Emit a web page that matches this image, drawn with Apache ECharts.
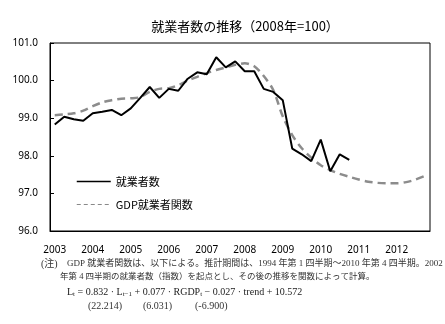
<!DOCTYPE html>
<html>
<head>
<meta charset="utf-8">
<script src="https://cdn.jsdelivr.net/npm/echarts@6/dist/echarts.min.js"></script>
<style>
html,body{margin:0;padding:0;background:#fff;}
#c{width:445px;height:324px;}
</style>
</head>
<body>
<div id="c"></div>
<script>
// ---- data ----
const years = ['2003','2004','2005','2006','2007','2008','2009','2010','2011','2012'];
const quarters = ['Q1','Q2','Q3','Q4'];
// 就業者数 (2003Q1 - 2010Q4)
const employed = [98.83, 99.04, 98.97, 98.93, 99.13, 99.17, 99.22, 99.08,
                  99.26, 99.54, 99.83, 99.54, 99.78, 99.73, 100.05, 100.22,
                  100.17, 100.62, 100.35, 100.51, 100.25, 100.25, 99.78, 99.70,
                  99.48, 98.19, 98.04, 97.86, 98.43, 97.59, 98.04, 97.89];
// GDP就業者関数 (2003Q1 - 2012Q4)
const gdpFunc = [99.08, 99.10, 99.13, 99.20, 99.32, 99.42, 99.48, 99.52,
                 99.53, 99.56, 99.70, 99.78, 99.80, 99.88, 100.00, 100.10,
                 100.20, 100.28, 100.35, 100.42, 100.46, 100.38, 100.12, 99.75,
                 99.05, 98.55, 98.20, 97.95, 97.75, 97.62, 97.52, 97.44,
                 97.37, 97.31, 97.28, 97.27, 97.27, 97.30, 97.37, 97.47];
const yTicks = [96, 97, 98, 99, 100, 101];
const seriesNames = ['就業者数', 'GDP就業者関数'];
const titleText = '就業者数の推移（2008年=100）';
const noteLine1 = 'GDP 就業者関数は、以下による。推計期間は、1994 年第 1 四半期～2010 年第 4 四半期。2002';
const noteLine2 = '年第 4 四半期の就業者数（指数）を起点とし、その後の推移を関数によって計算。';
const tStats = ['(22.214)', '(6.031)', '(-6.900)'];

const categories = [];
years.forEach(y => quarters.forEach(q => categories.push(y + q)));

const chart = echarts.init(document.getElementById('c'), null, {renderer: 'canvas'});
const labelFont = '"Noto Sans", "DejaVu Sans", sans-serif';
const noteFont = '"Liberation Serif", "Noto Sans CJK JP", serif';

chart.setOption({
  animation: false,
  backgroundColor: '#fff',
  title: {
    text: titleText,
    left: 240,
    top: 15,
    textAlign: 'center',
    textStyle: {fontSize: 13, fontWeight: 'normal', color: '#000', fontFamily: '"Noto Sans CJK JP", sans-serif'}
  },
  legend: {
    orient: 'vertical',
    left: 71,
    top: 171,
    itemWidth: 34,
    itemHeight: 12,
    itemGap: 12,
    textStyle: {fontSize: 11, color: '#000', fontFamily: '"Noto Sans CJK JP", sans-serif'},
    data: [
      {name: seriesNames[0], itemStyle: {opacity: 0}, lineStyle: {color: '#000', width: 1.5, type: 'solid'}},
      {name: seriesNames[1], itemStyle: {opacity: 0}, lineStyle: {color: '#888', width: 1, type: [4, 3]}}
    ]
  },
  grid: {
    left: 50, right: 15, top: 43, bottom: 93,
    show: true, borderColor: '#000', borderWidth: 1
  },
  xAxis: {
    type: 'category',
    data: categories,
    boundaryGap: true,
    axisLine: {lineStyle: {color: '#000', width: 1}},
    axisTick: {inside: true, length: 4, interval: 3, lineStyle: {color: '#000'}},
    axisLabel: {
      interval: 3, margin: 14, fontSize: 10, color: '#000', fontFamily: labelFont,
      formatter: v => v.slice(0, 4)
    },
    splitLine: {show: false}
  },
  yAxis: {
    type: 'value',
    min: yTicks[0], max: yTicks[yTicks.length - 1], interval: 1,
    axisLine: {show: true, lineStyle: {color: '#000', width: 1}},
    axisTick: {show: true, inside: true, length: 4, lineStyle: {color: '#000'}},
    axisLabel: {margin: 12, fontSize: 10, color: '#000', fontFamily: labelFont, formatter: v => v.toFixed(1)},
    splitLine: {show: false}
  },
  series: [
    {
      name: seriesNames[0], type: 'line', data: employed, symbol: 'none',
      lineStyle: {color: '#000', width: 2}, itemStyle: {color: '#000'}, z: 3
    },
    {
      name: seriesNames[1], type: 'line', data: gdpFunc, symbol: 'none', smooth: 0.3,
      lineStyle: {color: '#8c8c8c', width: 2.5, type: [8, 5]}, itemStyle: {color: '#8c8c8c'}, z: 2
    }
  ],
  graphic: [
    {type: 'text', left: 41, top: 259, style: {text: '(注)', font: '10px ' + noteFont, fill: '#333'}},
    {type: 'text', left: 67, top: 259, style: {text: noteLine1, font: '9px ' + noteFont, fill: '#333'}},
    {type: 'text', left: 60, top: 273, style: {text: noteLine2, font: '8.5px ' + noteFont, fill: '#333'}},
    {type: 'text', left: 67, top: 286, style: {
      text: '{b|L}{s|t}{b| = 0.832 · L}{s|t−1}{b| + 0.077 · RGDP}{s|t}{b| − 0.027 · trend + 10.572}',
      rich: {
        b: {fontSize: 10, fontFamily: noteFont, fill: '#222', lineHeight: 14},
        s: {fontSize: 7, fontFamily: noteFont, fill: '#222', lineHeight: 14, padding: [5, 0, 0, 0]}
      }
    }},
    {type: 'text', left: 88, top: 301, style: {text: tStats[0], font: '10px ' + noteFont, fill: '#333'}},
    {type: 'text', left: 143, top: 301, style: {text: tStats[1], font: '10px ' + noteFont, fill: '#333'}},
    {type: 'text', left: 195, top: 301, style: {text: tStats[2], font: '10px ' + noteFont, fill: '#333'}}
  ]
});
</script>
</body>
</html>
